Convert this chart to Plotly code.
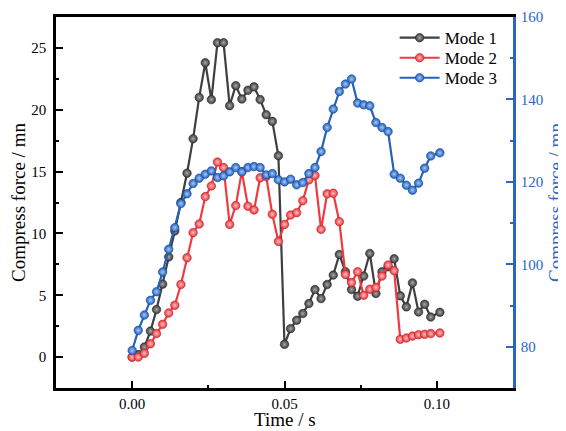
import plotly.graph_objects as go

# Time axis (s)
time_s = [0.000, 0.002, 0.004, 0.006, 0.008, 0.010, 0.012, 0.014, 0.016, 0.018,
          0.020, 0.022, 0.024, 0.026, 0.028, 0.030, 0.032, 0.034, 0.036, 0.038,
          0.040, 0.042, 0.044, 0.046, 0.048, 0.050, 0.052, 0.054, 0.056, 0.058,
          0.060, 0.062, 0.064, 0.066, 0.068, 0.070, 0.072, 0.074, 0.076, 0.078,
          0.080, 0.082, 0.084, 0.086, 0.088, 0.090, 0.092, 0.094, 0.096, 0.098,
          0.101]

# Mode 1 (left axis, mn)
mode1 = [0.0, 0.2, 0.81, 2.1, 3.84, 5.9, 8.1, 10.2, 12.5, 14.87,
         17.66, 21.0, 23.8, 20.82, 25.42, 25.42, 20.33, 21.95, 20.87, 21.57,
         21.85, 20.82, 19.6, 19.06, 16.28, 1.03, 2.3, 2.98, 3.52, 4.33,
         5.46, 4.73, 5.87, 6.63, 8.3, 6.9, 5.46, 4.92, 6.55, 8.38,
         5.14, 6.9, 7.3, 7.95, 4.95, 4.06, 6.0, 3.65, 4.27, 3.24,
         3.62]

# Mode 2 (left axis, mn)
mode2 = [0.0, 0.0, 0.3, 1.08, 1.9, 2.65, 3.57, 4.19, 5.87, 8.03,
         10.06, 10.76, 12.98, 13.84, 15.77, 15.33, 10.73, 12.25, 15.0, 12.2,
         11.9, 14.5, 14.6, 11.55, 9.35, 10.73, 11.49, 11.68, 12.65, 14.33,
         14.68, 10.33, 13.2, 13.25, 10.95, 6.68, 6.03, 6.9, 5.0, 5.49,
         5.63, 6.55, 7.44, 6.98, 1.44, 1.54, 1.7, 1.81, 1.84, 1.9,
         1.95]

# Mode 3 (right axis, mn)
mode3 = [79.1, 83.98, 87.7, 91.27, 93.36, 98.14, 103.65, 108.9, 114.73, 117.1,
         119.6, 120.9, 121.87, 122.67, 121.05, 121.46, 122.43, 123.48, 122.43, 123.48,
         123.72, 123.48, 121.7, 122.02, 120.5, 120.0, 120.66, 119.28, 119.84, 122.02,
         123.48, 127.36, 133.19, 137.66, 141.94, 143.73, 144.95, 139.12, 138.7, 138.47,
         134.4, 133.2, 132.2, 121.87, 120.9, 119.2, 118.0, 119.7, 123.33, 126.3,
         127.05]

series_names = ["Mode 1", "Mode 2", "Mode 3"]
x_title = "Time / s"
y_title = "Compress force / mn"

FONT = "Liberation Serif, Times New Roman, serif"
BLUE_AXIS = "#2a66c0"

styles = [
    dict(line="#3f3f3f", marker="#3a3a3a", center="#a8a8a8", rim="#2a2a2a"),
    dict(line="#ef3b40", marker="#e8333a", center="#ffc0c0", rim="#c02028"),
    dict(line="#2563b8", marker="#1f5fbf", center="#a8c8f4", rim="#184a98"),
]

legend_ids = ["legend", "legend2", "legend3"]
legend_y = [0.943, 0.889, 0.835]

fig = go.Figure()
data = [(mode1, "y"), (mode2, "y"), (mode3, "y2")]
for name, (vals, ax), st, lg in zip(series_names, data, styles, legend_ids):
    fig.add_trace(go.Scatter(
        x=time_s, y=vals, name=name, yaxis=ax, mode="lines+markers",
        legend=lg,
        line=dict(color=st["line"], width=2.2),
        marker=dict(size=8.5, color=st["marker"],
                    gradient=dict(type="radial", color=st["center"]),
                    line=dict(color=st["rim"], width=0.6)),
    ))

axis_common = dict(
    showline=True, linecolor="black", linewidth=2.5,
    ticks="inside", ticklen=7, tickwidth=2, tickcolor="black",
    showgrid=False, zeroline=False, automargin=False,
    tickfont=dict(family=FONT, size=15, color="black"),
)

legend_layout = {}
for lg, ly in zip(legend_ids, legend_y):
    legend_layout[lg] = dict(x=0.741, y=ly, xanchor="left", yanchor="middle",
                             bgcolor="rgba(0,0,0,0)", borderwidth=0,
                             font=dict(family=FONT, size=17, color="black"),
                             itemwidth=40)

# the page body adds an 8 px offset, so the figure is sized to fit the window
fig.update_layout(
    width=558, height=423,
    margin=dict(l=48, r=53, t=9, b=43),
    paper_bgcolor="white", plot_bgcolor="white",
    font=dict(family=FONT, color="black"),
    showlegend=True,
    **legend_layout,
    xaxis=dict(**axis_common, range=[-0.025, 0.125], dtick=0.05, tick0=0,
               tickformat=".2f", mirror=True,
               minor=dict(dtick=0.025, ticks="inside", ticklen=3.5, tickwidth=2, tickcolor="black")),
    yaxis=dict(**axis_common, range=[-2.5, 27.5], dtick=5, tick0=0, ticklabelstandoff=4,
               minor=dict(dtick=2.5, ticks="inside", ticklen=3.5, tickwidth=2, tickcolor="black"),
               title=dict(text=y_title, font=dict(family=FONT, size=19), standoff=2)),
    yaxis2=dict(overlaying="y", side="right", range=[70, 160], dtick=20, tick0=0,
                showline=True, linecolor=BLUE_AXIS, linewidth=2.5, automargin=False,
                ticks="inside", ticklen=7, tickwidth=2, tickcolor=BLUE_AXIS,
                showgrid=False, zeroline=False, ticklabelstandoff=2,
                tickfont=dict(family=FONT, size=15, color=BLUE_AXIS),
                minor=dict(dtick=10, ticks="inside", ticklen=3.5, tickwidth=2, tickcolor=BLUE_AXIS),
                title=dict(text=y_title, font=dict(family=FONT, size=19, color=BLUE_AXIS), standoff=20)),
    annotations=[dict(text=x_title, xref="paper", yref="paper", x=0.5, y=0,
                      xanchor="center", yanchor="middle", yshift=-31, showarrow=False,
                      font=dict(family=FONT, size=19, color="black"))],
)

fig.write_html("out.html")
